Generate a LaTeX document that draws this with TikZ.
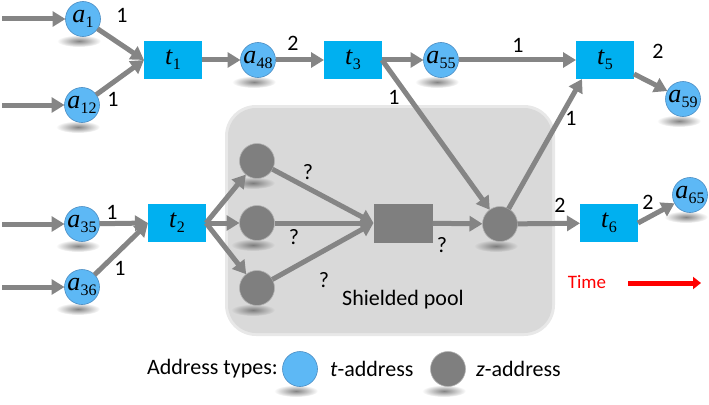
\documentclass[tikz,border=0pt]{standalone}
\usepackage{fontspec}
\setmainfont{Carlito}
\newfontfamily\mathish{Liberation Serif}
\usetikzlibrary{arrows.meta,fadings,calc}
\definecolor{tblue}{HTML}{5DB8F5}
\definecolor{tedge}{HTML}{4A8CC2}
\definecolor{rblue}{HTML}{00B0F0}
\definecolor{zgray}{HTML}{7F7F7F}
\definecolor{agray}{HTML}{858585}
\definecolor{poolgray}{HTML}{D9D9D9}
\tikzfading[name=shadowfade, inner color=transparent!20, outer color=transparent!100]
\newcommand\vsym[2]{{\mathish\fontsize{26}{26}\selectfont\itshape #1}\kern0.3pt\raisebox{-0.45ex}{\mathish\fontsize{16}{16}\selectfont #2}}
\begin{document}
\begin{tikzpicture}[x=1pt,y=-1pt,
  every node/.style={font=\fontsize{22}{24}\selectfont},
  tnode/.style={circle,fill=tblue,draw=tedge,line width=0.6pt,minimum size=35pt,inner sep=0pt,outer sep=0pt},
  znode/.style={circle,fill=zgray,draw=zgray!60!white,line width=0.6pt,minimum size=35pt,inner sep=0pt,outer sep=0pt},
  tx/.style={rectangle,fill=rblue,minimum width=58pt,minimum height=38pt,inner sep=0pt,outer sep=0pt},
  zx/.style={rectangle,fill=zgray,minimum width=59pt,minimum height=39pt,inner sep=0pt,outer sep=0pt},
  arr/.style={draw=agray,line width=5pt,-{Triangle[length=13pt,width=15pt]}},
  tarr/.style={draw=red,line width=5pt,-{Triangle[length=8pt,width=12pt]}},
  shad/.style={fill=black!60,path fading=shadowfade},
  lbl/.style={inner sep=0pt}]
\useasboundingbox (0,0) rectangle (709,404);
% shielded pool
\fill[poolgray!60!white,rounded corners=31pt] (225,105) rectangle (555,336);
\fill[poolgray,rounded corners=28pt] (228,108) rectangle (552,333);
% coordinates of nodes
\coordinate (pa1) at (83,19);
\coordinate (pa12) at (82,105);
\coordinate (pa48) at (258,60);
\coordinate (pa55) at (441,60);
\coordinate (pa59) at (683,99);
\coordinate (pa35) at (82,224);
\coordinate (pa36) at (82,287);
\coordinate (pa65) at (690,195);
\coordinate (pz1) at (257,161);
\coordinate (pz2) at (257,223);
\coordinate (pz3) at (257,288);
\coordinate (pz4) at (500,224);
\coordinate (plt) at (300,369);
\coordinate (plz) at (448,369);
% shadows
\foreach \p in {pa1,pa12,pa48,pa55,pa59,pa35,pa36,pa65,pz1,pz2,pz3,pz4,plt,plz}
  \fill[shad] ($(\p)+(-4,22)$) ellipse [x radius=22, y radius=6];
% nodes
\node[tnode] (a1) at (pa1) {\vsym{a}{1}};
\node[tnode] (a12) at (pa12) {\vsym{a}{12}};
\node[tx] (t1) at (173,60) {\vsym{t}{1}};
\node[tnode] (a48) at (pa48) {\vsym{a}{48}};
\node[tx] (t3) at (353,60) {\vsym{t}{3}};
\node[tnode] (a55) at (pa55) {\vsym{a}{55}};
\node[tx] (t5) at (605,60) {\vsym{t}{5}};
\node[tnode] (a59) at (pa59) {\vsym{a}{59}};
\node[tnode] (a35) at (pa35) {\vsym{a}{35}};
\node[tnode] (a36) at (pa36) {\vsym{a}{36}};
\node[tx] (t2) at (177,223) {\vsym{t}{2}};
\node[znode] (z1) at (pz1) {};
\node[znode] (z2) at (pz2) {};
\node[znode] (z3) at (pz3) {};
\node[zx] (zt) at (403,223) {};
\node[znode] (z4) at (pz4) {};
\node[tx] (t6) at (609,223) {\vsym{t}{6}};
\node[tnode] (a65) at (pa65) {\vsym{a}{65}};
% input ends
\coordinate (in1) at (2,19);
\coordinate (in12) at (2,105);
\coordinate (in35) at (2,224);
\coordinate (in36) at (2,287);
% connectors
\draw[arr] (in1) -- (a1);
\draw[arr] (in12) -- (a12);
\draw[arr] (in35) -- (a35);
\draw[arr] (in36) -- (a36);
\draw[arr] (a1) -- (t1.west);
\draw[arr] (a12) -- (t1.west);
\draw[arr] (t1) -- (a48);
\draw[arr] (a48) -- (t3);
\draw[arr] (t3) -- (a55);
\draw[arr] (t3.east) -- (z4);
\draw[arr] (a55) -- (t5);
\draw[arr] (z4) -- ($(t5.south west)+(6,0)$);
\draw[arr] ($(t5.east)+(0,14)$) -- (a59);
\draw[arr] (a35) -- (t2.west);
\draw[arr] (a36) -- (t2.west);
\draw[arr] (t2.east) -- (z1);
\draw[arr] (t2.east) -- (z2);
\draw[arr] (t2.east) -- (z3);
\draw[arr] (z1) -- (zt.west);
\draw[arr] (z2) -- (zt.west);
\draw[arr] (z3) -- (zt.west);
\draw[arr] (zt) -- (z4);
\draw[arr] (z4) -- (t6);
\draw[arr] (t6.east) -- (a65);
% edge labels
\node[lbl] (l1) at (122,15) {1};
\node[lbl] (l2) at (113,99) {1};
\node[lbl] (l3) at (293,43) {2};
\node[lbl] (l4) at (394,97) {1};
\node[lbl] (l5) at (518,45) {1};
\node[lbl] (l6) at (658,51) {2};
\node[lbl] (l7) at (571,118) {1};
\node[lbl] (l8) at (112,212) {1};
\node[lbl] (l9) at (120,268) {1};
\node[lbl] (l10) at (560,205) {2};
\node[lbl] (l11) at (648,202) {2};
\node[lbl] (q1) at (308,172) {?};
\node[lbl] (q2) at (294,237) {?};
\node[lbl] (q3) at (324,280) {?};
\node[lbl] (q4) at (442,245) {?};
\node (pool) at (403,300) {Shielded pool};
% time
\node[red,font=\fontsize{19}{20}\selectfont] (time) at (587,282) {Time};
\coordinate (ts) at (628,283);
\coordinate (te) at (701,283);
\draw[tarr] (ts) -- (te);
% legend
\node[anchor=east,inner sep=0pt] (leg) at (278,369) {Address types:};
\node[tnode] (lt) at (plt) {};
\node[anchor=west,inner sep=0pt] (ltt) at (330,369) {\textit{t}-address};
\node[znode] (lz) at (plz) {};
\node[anchor=west,inner sep=0pt] (lzt) at (476,369) {\textit{z}-address};
\end{tikzpicture}
\end{document}
